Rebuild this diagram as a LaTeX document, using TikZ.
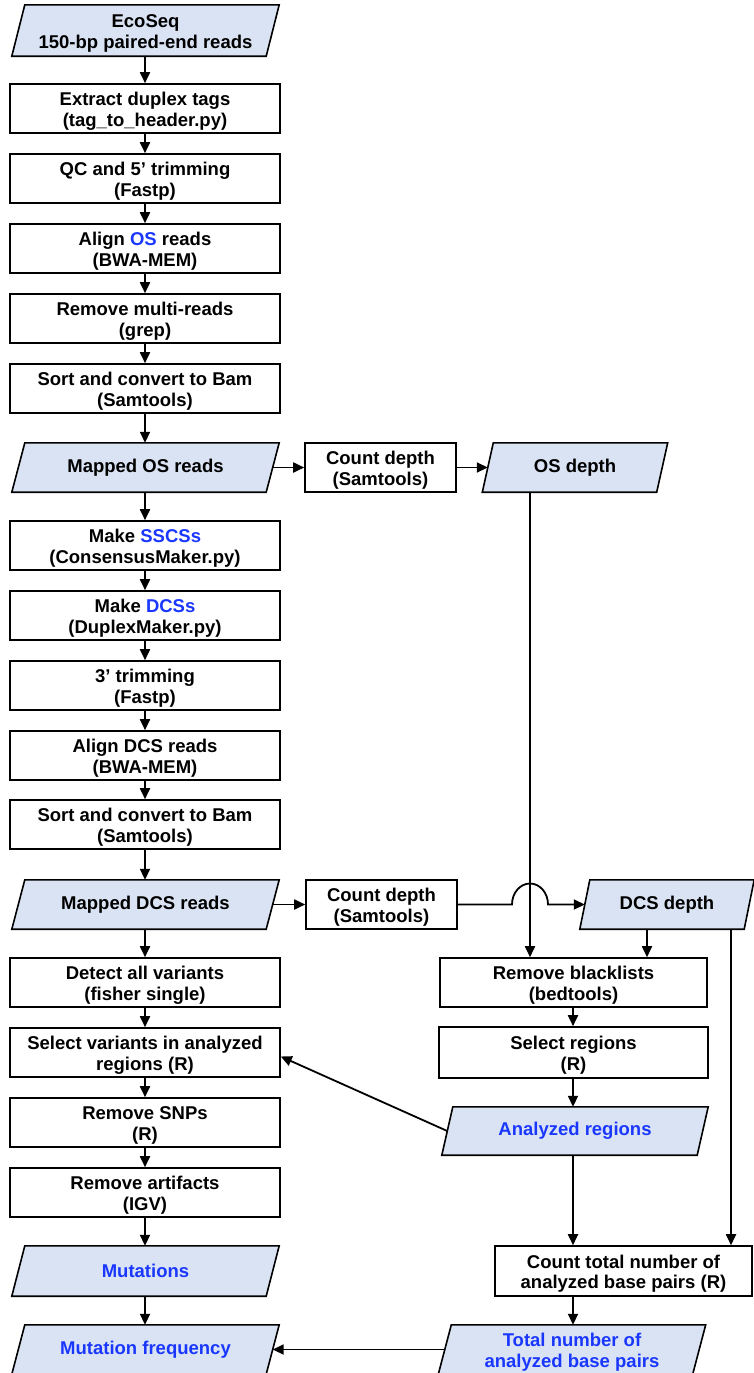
\documentclass[tikz,border=0pt]{standalone}
\usepackage{fontspec}
\setmainfont{Liberation Sans}
\usetikzlibrary{arrows.meta,backgrounds}
\definecolor{iofill}{RGB}{218,227,243}
\definecolor{hl}{RGB}{25,55,255}
\newcommand{\hstrut}{\rule{0pt}{19pt}}
\begin{document}
\begin{tikzpicture}[x=1pt,y=-1pt,
  every node/.style={font=\fontsize{18.5}{20.5}\selectfont\bfseries, align=center, inner sep=0pt},
  box/.style={draw, line width=1.6pt, minimum height=49pt, fill=white},
  io/.style={minimum height=49pt},
  iodraw/.style={draw, line width=1.6pt, fill=iofill},
  conn/.style={line width=1.8pt, -{Triangle[length=11pt,width=10pt]}},
  blue/.style={text=hl}
  ]
\useasboundingbox (0,0) rectangle (753,1373);
% left column
\node[io, minimum width=254pt, minimum height=51pt] (eco) at (145.5,30.5) {\hstrut EcoSeq\\150-bp paired-end reads};
\node[box, minimum width=270pt] (ext) at (145,108.5) {\hstrut Extract duplex tags\\(tag\_to\_header.py)};
\node[box, minimum width=270pt] (qc) at (145,178.5) {\hstrut QC and 5’ trimming\\(Fastp)};
\node[box, minimum width=270pt] (aos) at (145,248.5) {\hstrut Align \textcolor{hl}{OS} reads\\(BWA-MEM)};
\node[box, minimum width=270pt] (rmr) at (145,318.5) {\hstrut Remove multi-reads\\(grep)};
\node[box, minimum width=270pt] (sortA) at (145,388.5) {\hstrut Sort and convert to Bam\\(Samtools)};
\node[io, minimum width=254pt] (mos) at (145.5,467.5) {Mapped OS reads};
\node[box, minimum width=270pt] (sscs) at (145,545.5) {\hstrut Make \textcolor{hl}{SSCSs}\\(ConsensusMaker.py)};
\node[box, minimum width=270pt] (dcs) at (145,615.5) {\hstrut Make \textcolor{hl}{DCSs}\\(DuplexMaker.py)};
\node[box, minimum width=270pt] (trim) at (145,685.5) {\hstrut 3’ trimming\\(Fastp)};
\node[box, minimum width=270pt] (adcs) at (145,755.5) {\hstrut Align DCS reads\\(BWA-MEM)};
\node[box, minimum width=270pt] (sortB) at (145,824.5) {\hstrut Sort and convert to Bam\\(Samtools)};
\node[io, minimum width=254pt] (mdcs) at (145.5,904.5) {Mapped DCS reads};
\node[box, minimum width=270pt] (det) at (145,982.5) {\hstrut Detect all variants\\(fisher single)};
\node[box, minimum width=270pt] (selv) at (145,1052.5) {\hstrut Select variants in analyzed\\regions (R)};
\node[box, minimum width=270pt] (snp) at (145,1122.5) {\hstrut Remove SNPs\\(R)};
\node[box, minimum width=270pt] (art) at (145,1192.5) {\hstrut Remove artifacts\\(IGV)};
\node[io, minimum width=254pt, minimum height=50pt, blue] (mut) at (145.5,1271) {Mutations};
\node[io, minimum width=254pt, blue] (mf) at (145.5,1349.5) {Mutation frequency};
% right part
\node[box, minimum width=151pt] (cdA) at (380.5,467.5) {\hstrut Count depth\\(Samtools)};
\node[io, minimum width=174pt] (osd) at (575,467.5) {OS depth};
\node[box, minimum width=151pt] (cdB) at (381.5,904.5) {\hstrut Count depth\\(Samtools)};
\node[io, minimum width=164pt] (dcsd) at (667,904.5) {DCS depth};
\node[box, minimum width=267pt] (rb) at (573.5,982.5) {\hstrut Remove blacklists\\(bedtools)};
\node[box, minimum width=269pt, minimum height=51pt] (sr) at (573.5,1052.5) {\hstrut Select regions\\(R)};
\node[io, minimum width=255pt, minimum height=48pt, blue] (ar) at (575,1131) {Analyzed regions};
\node[box, minimum width=257pt, minimum height=50pt] (ct) at (623.5,1271) {\hstrut Count total number of\\analyzed base pairs (R)};
\node[io, minimum width=254pt, blue] (tn) at (572,1349.5) {\hstrut Total number of\\analyzed base pairs};
% parallelogram outlines
\begin{scope}[on background layer]
\foreach \n/\s in {eco/6.5,mos/6.5,mdcs/6.5,mut/6.5,mf/6.5,osd/5.5,dcsd/5,ar/5.5,tn/6.5}
  \draw[iodraw] ([xshift=\s pt]\n.north west) -- ([xshift=\s pt]\n.north east)
     -- ([xshift=-\s pt]\n.south east) -- ([xshift=-\s pt]\n.south west) -- cycle;
\end{scope}
% helper coordinates
\coordinate (hop) at (530,904.5);
\coordinate (xa) at (647,0);
\coordinate (xb) at (731,0);
\coordinate (xc) at (573,0);
% left chain
\foreach \a/\b in {eco/ext,ext/qc,qc/aos,aos/rmr,rmr/sortA,sortA/mos,mos/sscs,sscs/dcs,dcs/trim,trim/adcs,adcs/sortB,sortB/mdcs,mdcs/det,det/selv,selv/snp,snp/art,art/mut,mut/mf}
  \draw[conn] (\a.south -| ext.south) -- (\b.north -| ext.south);
% right connections
\draw[conn] (mos.east) -- (cdA.west);
\draw[conn] (cdA.east) -- (osd.west);
\draw[conn] (mdcs.east) -- (cdB.west);
\draw[conn] (cdB.east) -- ([xshift=-18pt]hop) arc[start angle=180, end angle=360, x radius=18, y radius=21] -- (dcsd.west);
\draw[conn] (osd.south -| hop) -- (rb.north -| hop);
\draw[conn] (dcsd.south -| xa) -- (rb.north -| xa);
\draw[conn] (dcsd.south -| xb) -- (ct.north -| xb);
\draw[conn] (rb.south -| xc) -- (sr.north -| xc);
\draw[conn] (sr.south -| xc) -- (ar.north -| xc);
\draw[conn] (ar.south -| xc) -- (ct.north -| xc);
\draw[conn] (ct.south -| xc) -- (tn.north -| xc);
\draw[conn] (ar.west) -- ([yshift=-4pt]selv.east);
\draw[conn] (tn.west) -- (mf.east);
\end{tikzpicture}
\end{document}
